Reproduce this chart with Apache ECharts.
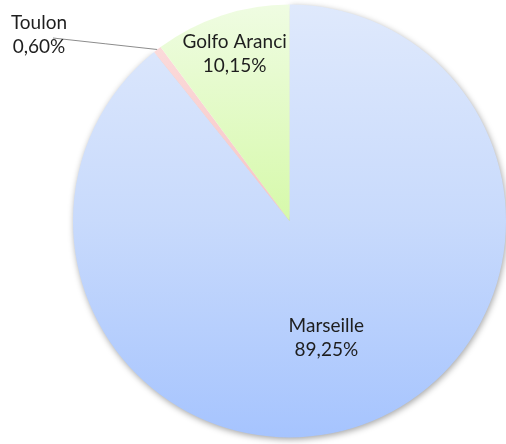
<!DOCTYPE html>
<html>
<head>
<meta charset="utf-8">
<script src="https://cdn.jsdelivr.net/npm/echarts@6/dist/echarts.min.js"></script>
<style>
html,body{margin:0;padding:0;background:#fff;}
#chart{width:506px;height:444px;}
</style>
</head>
<body>
<div id="chart"></div>
<script>
var categories = ['Marseille', 'Toulon', 'Golfo Aranci'];
var values = [89.25, 0.60, 10.15];
var valueLabels = ['89,25%', '0,60%', '10,15%'];

var fills = [
  new echarts.graphic.LinearGradient(0, 0, 0, 1, [
    {offset: 0, color: '#dfe9fc'}, {offset: 0.5, color: '#c8dafc'}, {offset: 1, color: '#a6c4fe'}
  ]),
  new echarts.graphic.LinearGradient(0, 0, 0, 1, [
    {offset: 0, color: '#fbdada'}, {offset: 1, color: '#f7c4c4'}
  ]),
  new echarts.graphic.LinearGradient(0, 0, 0, 1, [
    {offset: 0, color: '#effce2'}, {offset: 1, color: '#d6f9aa'}
  ])
];

var chart = echarts.init(document.getElementById('chart'), null, {renderer: 'canvas'});

var data = categories.map(function (name, i) {
  var item = {
    name: name,
    value: values[i],
    itemStyle: {color: fills[i]},
    label: {
      show: true,
      position: i === 1 ? 'outside' : 'inside',
      formatter: name + '\n' + valueLabels[i]
    },
    labelLine: {show: i === 1}
  };
  if (i === 0) {
    item.itemStyle.shadowBlur = 6;
    item.itemStyle.shadowColor = 'rgba(0,0,0,0.35)';
    item.itemStyle.shadowOffsetX = 1;
    item.itemStyle.shadowOffsetY = 2;
  }
  return item;
});

chart.setOption({
  animation: false,
  series: [{
    type: 'pie',
    center: [289.5, 221],
    radius: [0, 216.5],
    startAngle: 90,
    clockwise: true,
    avoidLabelOverlap: false,
    data: data,
    label: {
      fontFamily: 'Lato',
      fontSize: 19,
      lineHeight: 24,
      color: '#1e1e1e',
      align: 'center'
    },
    labelLine: {
      length: 10,
      length2: 10,
      lineStyle: {color: '#8c8c8c', width: 1}
    },
    labelLayout: function (p) {
      if (p.dataIndex === 0) return {dy: 12};
      if (p.dataIndex === 2) return {dx: -20, dy: -61};
      var start = p.labelLinePoints ? p.labelLinePoints[0] : [157, 50];
      var end = [53, 38];
      return {
        x: 39, y: 35, align: 'center', verticalAlign: 'middle',
        labelLinePoints: [start, [(start[0] + end[0]) / 2, (start[1] + end[1]) / 2], end]
      };
    }
  }]
});
</script>
</body>
</html>
